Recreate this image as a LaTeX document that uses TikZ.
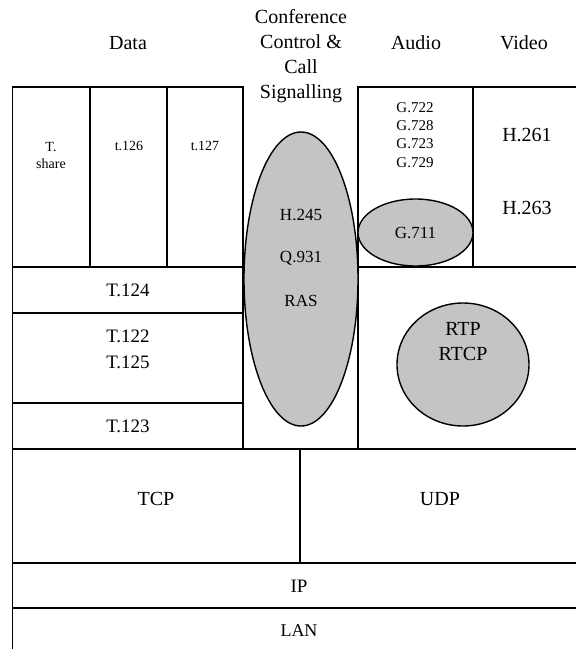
\documentclass[tikz,border=0pt]{standalone}
\usepackage{fontspec}
\setmainfont{Liberation Serif}
\usepackage{tikz}
\usetikzlibrary{shapes.geometric}
\definecolor{Shade}{HTML}{C4C4C4}

\begin{document}
\begin{tikzpicture}[
  x=1pt, y=-1pt,
  cell/.style={draw, line width=1.3pt},
  blob/.style={
    draw,
    ellipse,
    line width=1.4pt,
    fill=Shade,
    inner sep=0pt
  },
  lbl/.style 2 args={align=center, font=\fontsize{#1}{#2}\selectfont}
]
\useasboundingbox (0,0) rectangle (576,649);
\clip (0,0) rectangle (576,649);

% column headings
\node[lbl={20}{25}] (hdata)  at (128,43) {Data};
\node[lbl={20}{25},anchor=north] (hconf) at (301,6) {Conference\\Control \&\\Call\\Signalling};
\node[lbl={20}{25}] (haudio) at (416,43) {Audio};
\node[lbl={20}{25}] (hvideo) at (524,43) {Video};

% data stack
\draw[cell] (12.5,87) rectangle (90,267);
\draw[cell] (90,87) rectangle (167,267);
\draw[cell] (167,87) rectangle (243,267);
\draw[cell] (12.5,267) rectangle (243,313);
\draw[cell] (12.5,313) rectangle (243,403);
\draw[cell] (12.5,403) rectangle (243,449);

% audio / video
\draw[cell] (358,87) rectangle (473,267);
\draw[cell] (473,87) rectangle (590,267);
\draw[cell] (358,267) rectangle (590,449);

% transport and below
\draw[cell] (12.5,449) rectangle (300,563);
\draw[cell] (300,449) rectangle (590,563);
\draw[cell] (12.5,563) rectangle (590,608);
\draw[cell] (12.5,608) rectangle (590,660);

% shaded protocols
\node[blob,minimum width=114pt,minimum height=294pt] (ctrl) at (301,279) {};
\node[blob,minimum width=115pt,minimum height=67pt] (g711) at (415.5,232.5) {};
\node[blob,minimum width=132pt,minimum height=123pt] (rtp) at (463,364.5) {};

\node[lbl={14}{17}] (tshare) at (51,155) {T.\\share};
\node[lbl={14}{17}] (t126) at (129,146) {t.126};
\node[lbl={14}{17}] (t127) at (205,146) {t.127};

\node[lbl={15}{18.2}] (gcodec) at (415,135) {G.722\\G.728\\G.723\\G.729};
\node[lbl={20}{24}] (h261) at (527,135) {H.261};
\node[lbl={20}{24}] (h263) at (527,208) {H.263};

\node[lbl={17}{20}] (h245) at (301,215) {H.245};
\node[lbl={17}{20}] (q931) at (301,258) {Q.931};
\node[lbl={17}{20}] (ras) at (301,301) {RAS};
\node[lbl={17}{20}] (g711t) at (g711) {G.711};
\node[lbl={20}{25}] (rtpt) at (463,342) {RTP\\RTCP};

\node[lbl={19}{23}] (t124) at (128,290) {T.124};
\node[lbl={19}{26}] (t122) at (128,349) {T.122\\T.125};
\node[lbl={19}{23}] (t123) at (128,426) {T.123};

\node[lbl={20}{24}] (tcp) at (156,499) {TCP};
\node[lbl={20}{24}] (udp) at (440,499) {UDP};
\node[lbl={19}{23}] (ip) at (299,586) {IP};
\node[lbl={18}{22}] (lan) at (299,631) {LAN};

\end{tikzpicture}
\end{document}
